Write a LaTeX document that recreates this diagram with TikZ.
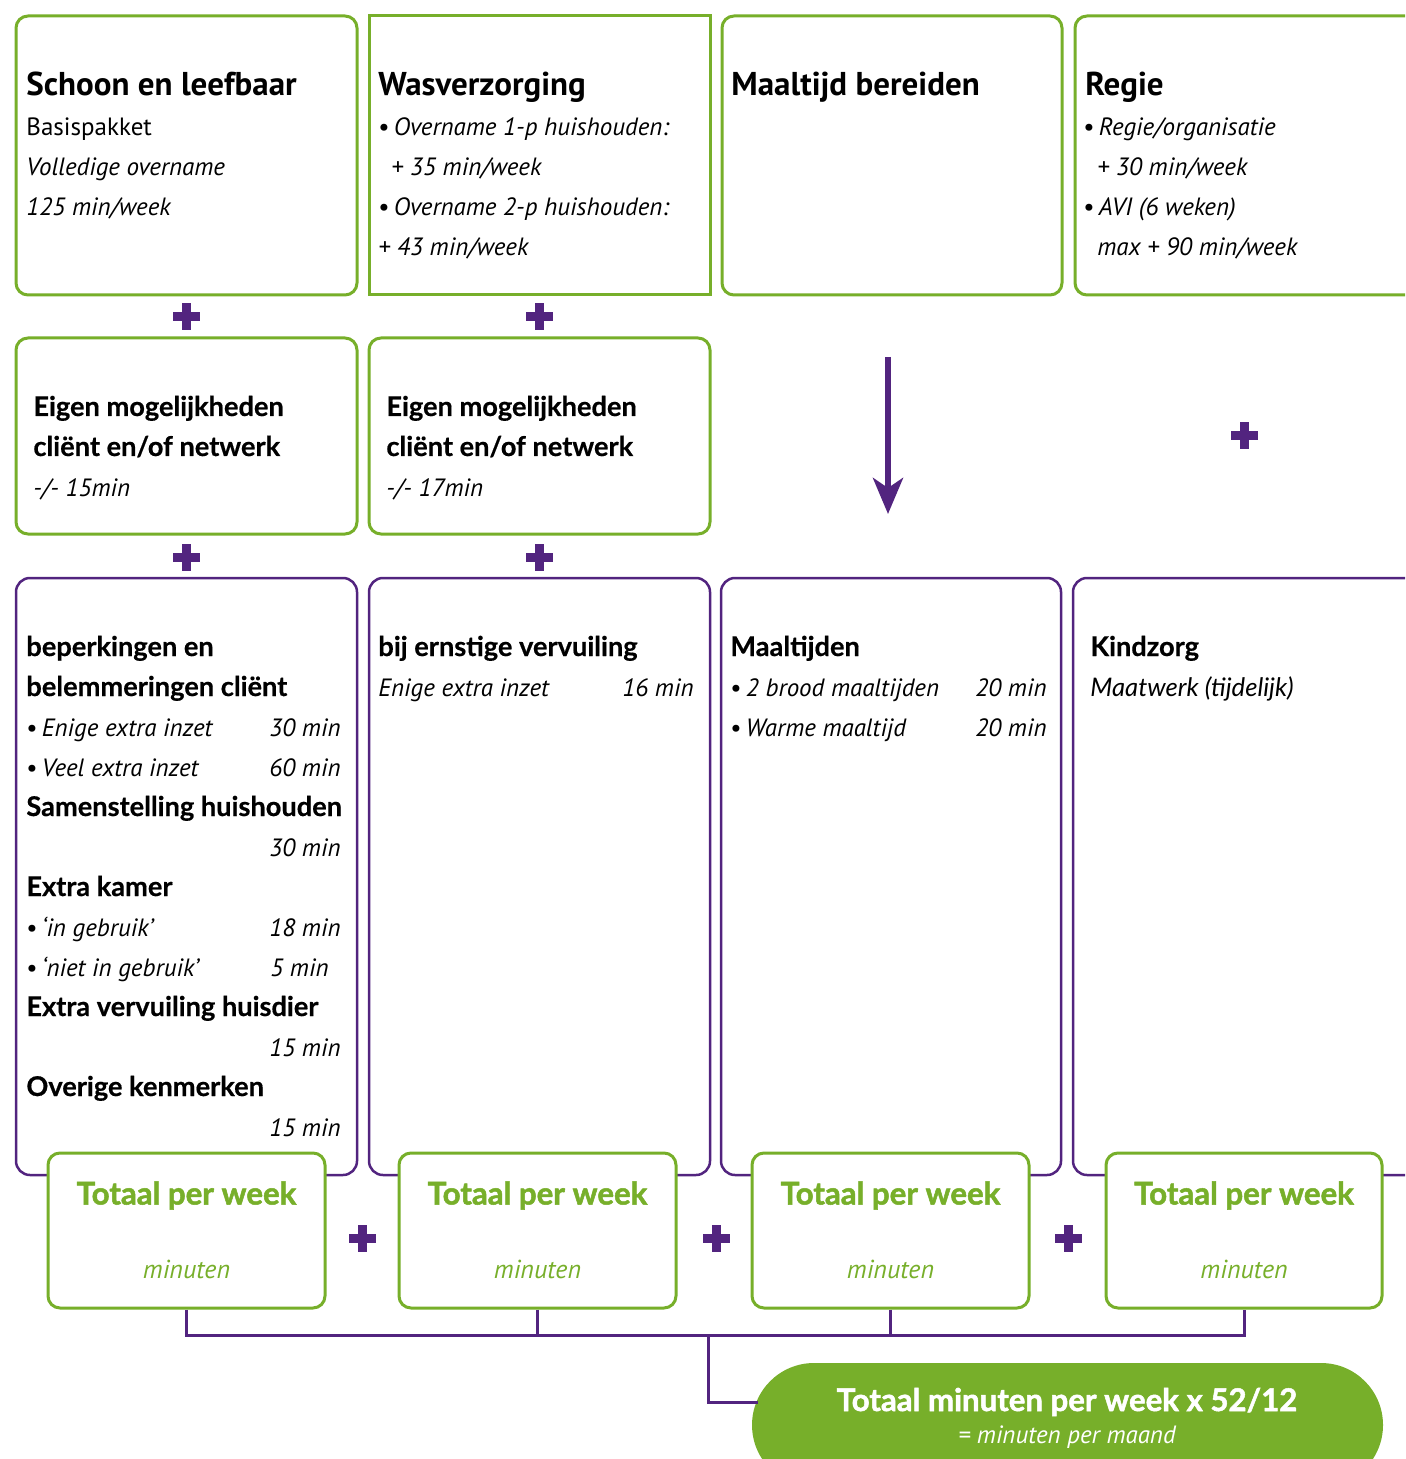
\documentclass[tikz,border=0pt]{standalone}
\usepackage{fontspec}
\setmainfont{PT Sans}
\newfontfamily\latofam{Lato}[BoldFeatures={FakeBold=0.5}]
\newfontfamily\latoheavy{Lato}[BoldFeatures={FakeBold=1.6}]
\usetikzlibrary{fit,arrows.meta}
\definecolor{grn}{HTML}{77AF2A}
\definecolor{pur}{HTML}{52247F}
\newcommand\fTitle{\fontsize{16.5}{20}\selectfont\bfseries}
\newcommand\fBody{\fontsize{12.5}{20}\selectfont}
\newcommand\fHead{\latofam\fontsize{13.6}{20}\selectfont\bfseries}
\newcommand\fTot{\latoheavy\fontsize{15.6}{18}\selectfont\bfseries}
\tikzset{
  gbox/.style={draw=grn, line width=1.5pt, rounded corners=6pt, fill=white, inner sep=0pt},
  gsq/.style={draw=grn, line width=1.5pt, fill=white, inner sep=0pt},
  pbox/.style={draw=pur, line width=1.25pt, rounded corners=7pt, inner sep=0pt},
  ttl/.style={anchor=base west, inner sep=0pt, font=\fTitle},
  bdy/.style={anchor=base west, inner sep=0pt, font=\fBody},
  bdr/.style={anchor=base east, inner sep=0pt, font=\fBody\itshape},
  hdr/.style={anchor=base west, inner sep=0pt, font=\fHead},
  tot/.style={anchor=base, inner sep=0pt, font=\fTot, text=grn},
  minu/.style={anchor=base, inner sep=0pt, font=\fontsize{13}{16}\selectfont\itshape, text=grn},
  bus/.style={draw=pur, line width=1.5pt},
  plussign/.pic={\fill[pur] (-13.5,-4.5) rectangle (13.5,4.5); \fill[pur] (-4.5,-13.5) rectangle (4.5,13.5);}
}
\begin{document}
\begin{tikzpicture}[x=0.5pt,y=-0.5pt]
\useasboundingbox (0,0) rectangle (1405,1459);
\clip (0,0) rectangle (1405,1459);

% ---- top row
\node[gbox, fit={(16,16)(357,295)}] (A1) {};
\node[gsq,  fit={(369,16)(710,295)}] (A2) {};
\node[gbox, fit={(722,16)(1062,295)}] (A3) {};
\node[gbox, fit={(1075,16)(1430,295)}] (A4) {};

\node[ttl] (a1t) at (26,96) {Schoon en leefbaar};
\node[bdy] (a1a) at (26,136) {Basispakket};
\node[bdy] (a1b) at (26,176) {\itshape Volledige overname};
\node[bdy] (a1c) at (26,216) {\itshape 125 min/week};

\node[ttl] (a2t) at (378,96) {Wasverzorging};
\node[bdy] (a2a) at (378,136) {•\,\itshape Overname 1-p huishouden:};
\node[bdy] (a2b) at (391,176) {\itshape + 35 min/week};
\node[bdy] (a2c) at (378,216) {•\,\itshape Overname 2-p huishouden:};
\node[bdy] (a2d) at (378,256) {\itshape + 43 min/week};

\node[ttl] (a3t) at (731,96) {Maaltijd bereiden};

\node[ttl] (a4t) at (1085,96) {Regie};
\node[bdy] (a4a) at (1083,136) {•\,\itshape Regie/organisatie};
\node[bdy] (a4b) at (1097,176) {\itshape + 30 min/week};
\node[bdy] (a4c) at (1083,216) {•\,\itshape AVI (6 weken)};
\node[bdy] (a4d) at (1097,256) {\itshape max + 90 min/week};

% ---- plus signs
\pic at (186,317) {plussign};
\pic at (539,317) {plussign};
\pic at (1244,436) {plussign};
\pic at (186,557) {plussign};
\pic at (539,557) {plussign};

% ---- second row
\node[gbox, fit={(16,338)(357,534)}] (B1) {};
\node[gbox, fit={(369,338)(710,534)}] (B2) {};
\node[hdr] (b1a) at (33,416) {Eigen mogelijkheden};
\node[hdr] (b1b) at (33,456) {cliënt en/of netwerk};
\node[bdy] (b1c) at (33,496) {\itshape -/- 15min};
\node[hdr] (b2a) at (386,416) {Eigen mogelijkheden};
\node[hdr] (b2b) at (386,456) {cliënt en/of netwerk};
\node[bdy] (b2c) at (386,496) {\itshape -/- 17min};

\coordinate (ar1) at (888,357);
\coordinate (ar2) at (888,514);
\draw[pur, line width=3pt, -{Stealth[length=18pt, width=15pt, inset=5pt]}] (ar1) -- (ar2);

% ---- third row
\node[pbox, fit={(16,578)(357,1175)}] (C1) {};
\node[pbox, fit={(369,578)(710,1175)}] (C2) {};
\node[pbox, fit={(721,578)(1061,1175)}] (C3) {};
\node[pbox, fit={(1073,578)(1430,1175)}] (C4) {};

\node[hdr] (c1a) at (26,656) {beperkingen en};
\node[hdr] (c1b) at (26,696) {belemmeringen cliënt};
\node[bdy] (c1c) at (26,736) {•\,\itshape Enige extra inzet};
\node[bdr] (c1cv) at (341,736) {30 min};
\node[bdy] (c1d) at (26,776) {•\,\itshape Veel extra inzet};
\node[bdr] (c1dv) at (341,776) {60 min};
\node[hdr] (c1e) at (26,816) {Samenstelling huishouden};
\node[bdr] (c1ev) at (341,856) {30 min};
\node[hdr] (c1f) at (26,896) {Extra kamer};
\node[bdy] (c1g) at (26,936) {•\,\itshape ‘in gebruik’};
\node[bdr] (c1gv) at (341,936) {18 min};
\node[bdy] (c1h) at (26,976) {•\,\itshape ‘niet in gebruik’};
\node[bdr] (c1hv) at (329,976) {5 min};
\node[hdr] (c1i) at (26,1016) {Extra vervuiling huisdier};
\node[bdr] (c1iv) at (341,1056) {15 min};
\node[hdr] (c1j) at (26,1096) {Overige kenmerken};
\node[bdr] (c1jv) at (341,1136) {15 min};

\node[hdr] (c2a) at (378,656) {bij ernstige vervuiling};
\node[bdy] (c2b) at (378,696) {\itshape Enige extra inzet};
\node[bdr] (c2bv) at (694,696) {16 min};

\node[hdr] (c3a) at (730,656) {Maaltijden};
\node[bdy] (c3b) at (730,696) {•\,\itshape 2 brood maaltijden};
\node[bdr] (c3bv) at (1047,696) {20 min};
\node[bdy] (c3c) at (730,736) {•\,\itshape Warme maaltijd};
\node[bdr] (c3cv) at (1047,736) {20 min};

\node[hdr] (c4a) at (1090,656) {Kindzorg};
\node[anchor=base west, inner sep=0pt, font=\latofam\fontsize{12.8}{20}\selectfont\itshape] (c4b) at (1090,696) {Maatwerk (tijdelijk)};

% ---- totals
\node[gbox, fit={(48,1153)(325,1308)}] (T1) {};
\node[gbox, fit={(399,1153)(676,1308)}] (T2) {};
\node[gbox, fit={(752,1153)(1029,1308)}] (T3) {};
\node[gbox, fit={(1106,1153)(1382,1308)}] (T4) {};
\foreach \n in {1,2,3,4}{
  \node[tot] (tt\n) at ([yshift=-26.5pt]T\n.north) {Totaal per week};
  \node[minu] (tm\n) at ([yshift=-63.5pt]T\n.north) {minuten};
}
\pic at (362,1238) {plussign};
\pic at (716,1238) {plussign};
\pic at (1068,1238) {plussign};

% ---- bus
\coordinate (bus) at (0,1335);
\coordinate (jn) at (708,1335);
\coordinate (pj) at (0,1402);
\draw[bus] (T1.south) -- (T1.south |- bus) -- (T4.south |- bus) -- (T4.south);
\draw[bus] (T2.south) -- (T2.south |- bus);
\draw[bus] (T3.south) -- (T3.south |- bus);

\node[fill=grn, rounded corners=31pt, inner sep=0pt, fit={(752,1363)(1383,1487)}] (P) {};
\draw[bus] (jn) |- ([xshift=3pt]P.west |- pj);
\node[anchor=base, inner sep=0pt, font=\fTot, text=white] (p1) at (1067,1411) {Totaal minuten per week x 52/12};
\node[anchor=base, inner sep=0pt, font=\fontsize{12.5}{16}\selectfont\itshape, text=white] (p2) at (1067,1443) {= minuten per maand};
\end{tikzpicture}
\end{document}
